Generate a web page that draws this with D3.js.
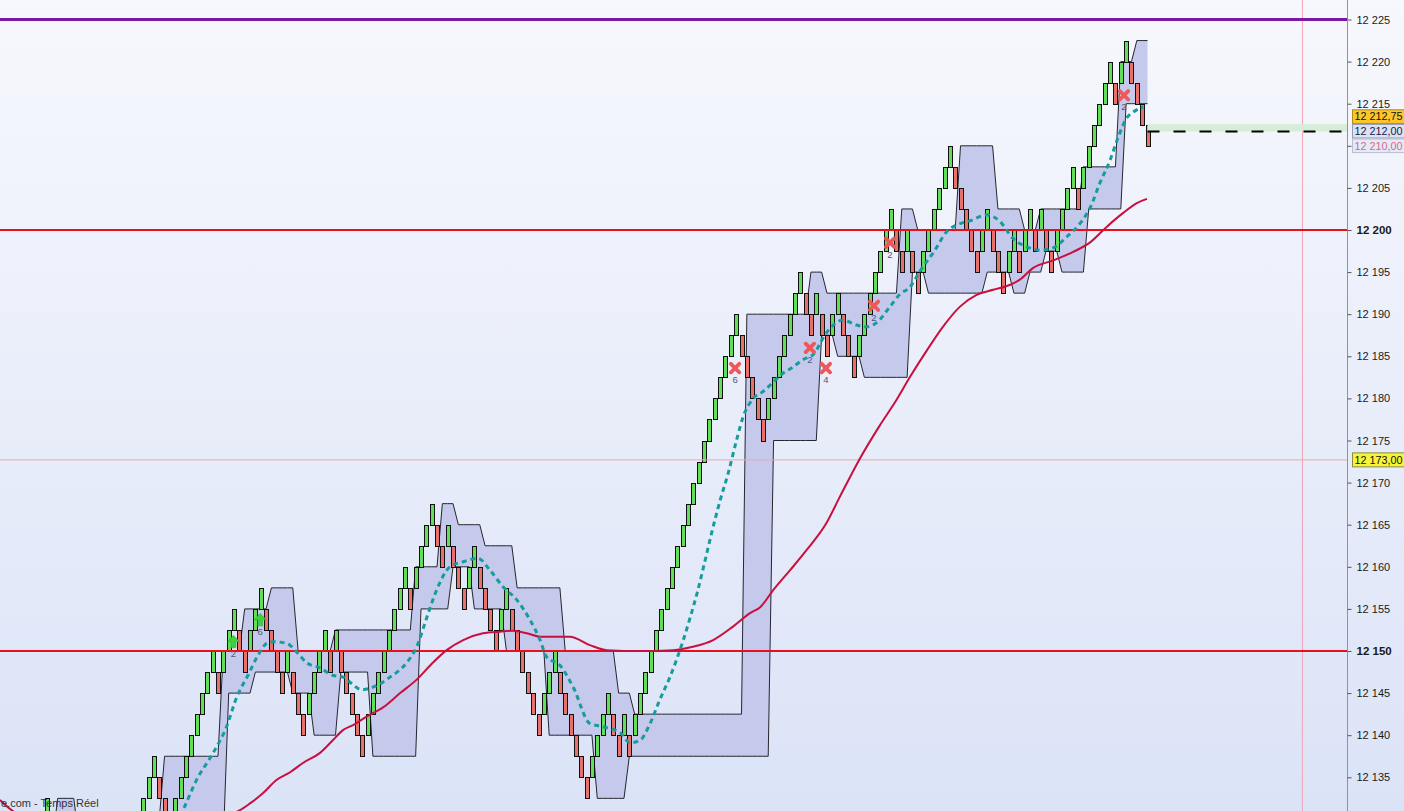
<!DOCTYPE html>
<html><head><meta charset="utf-8">
<script src="https://cdn.jsdelivr.net/npm/d3@7"></script>
<style>html,body{margin:0;padding:0;overflow:hidden;background:#fff}svg{display:block}</style>
</head><body>
<svg id="c" width="1404" height="811"></svg>
<script>
// ---------------- DATA ----------------
// Renko brick size (points)
const brickSize = 2.5;
// index of the first brick in brickTop (bricks left of x≈140 are mostly below the view)
const firstIndex = -18;
// top price of every renko brick, left to right (green = moved up, red = moved down)
const brickTop = [
 12132.5,12130,12127.5,12125,12127.5,12125,12122.5,12120,12122.5,12125,12127.5,12125,12127.5,12130,12127.5,12125,12127.5,12130,
 12132.5,12135,12137.5,12135,12132.5,12130,12132.5,12135,12137.5,12140,
 12142.5,12145,12147.5,12150,12147.5,12150,12152.5,12155,12152.5,12150,
 12152.5,12155,12157.5,12155,12152.5,12150,12147.5,12150,12147.5,12145,
 12142.5,12145,12147.5,12150,12152.5,12150,12152.5,12150,12147.5,12145,
 12142.5,12140,12142.5,12145,12147.5,12150,12152.5,12155,12157.5,12160,
 12157.5,12160,12162.5,12165,12167.5,12165,12162.5,12165,12162.5,12160,
 12157.5,12160,12162.5,12160,12157.5,12155,12152.5,12155,12157.5,12155,
 12152.5,12150,12147.5,12145,12142.5,12145,12147.5,12150,12147.5,12145,
 12142.5,12140,12137.5,12135,12137.5,12140,12142.5,12145,12142.5,12140,
 12142.5,12140,12142.5,12145,12147.5,12150,12152.5,12155,12157.5,12160,
 12162.5,12165,12167.5,12170,12172.5,12175,12177.5,12180,12182.5,12185,
 12187.5,12190,12187.5,12185,12182.5,12180,12177.5,12180,12182.5,12185,
 12187.5,12190,12192.5,12195,12192.5,12190,12192.5,12190,12187.5,12190,
 12192.5,12190,12187.5,12185,12187.5,12190,12192.5,12195,12197.5,12200,
 12202.5,12200,12197.5,12200,12197.5,12195,12197.5,12200,12202.5,12205,
 12207.5,12210,12207.5,12205,12202.5,12200,12197.5,12200,12202.5,12200,
 12197.5,12195,12197.5,12200,12197.5,12200,12202.5,12200,12202.5,12200,
 12197.5,12200,12202.5,12205,12207.5,12205,12207.5,12210,12212.5,12215,
 12217.5,12220,12217.5,12220,12222.5,12220,12217.5,12215,12212.5
];
// swing channel state before the first brick (below the view)
const bandStartHigh = 12127.5;
const bandStartLow = 12115;

// fast moving average (teal dotted): brick index / price
const fastMAIdx = [4.5,7.45,10.0,13.1,15.6,17.5,19.6,21.5,23.1,24.3,26.9,28.7,30.6,33.1,35.5,37.4,38.7,40.9,43.0,46.2,49.3,51.2,53.1,54.9,57.4,59.9,62.7,64.9,67.4,69.9,72.4,74.3,75.5,78.0,80.5,83.6,86.1,89.3,91.1,93.0,94.9,96.7,98.6,101.1,102.4,103.7,105.2,106.4,108.0,109.5,111.1,112.3,114.2,116.0,117.9,119.8,121.6,123.5,125.4,127.9,131.0,133.6,135.4,137.3,139.8,141.7,143.5,145.4,148.2,150.4,152.3,154.8,157.9,160.4,162.8,165.4,167.9,170.4,172.9,175.4,177.3,179.1,181.0,182.5,184.1,185.3,187.2];
const fastMAVal = [12127.6,12131.1,12134.7,12137.9,12141.0,12144.5,12147.1,12149.5,12150.9,12151.1,12150.9,12149.9,12148.6,12148.0,12147.1,12146.9,12146.3,12145.4,12145.7,12146.9,12148.6,12150.5,12154.0,12157.2,12160.0,12160.6,12161.0,12159.6,12157.6,12156.1,12153.7,12151.3,12149.3,12148.3,12145.7,12141.4,12141.0,12140.3,12139.1,12139.4,12141.4,12144.2,12146.9,12151.3,12154.0,12156.9,12160.8,12164.0,12167.9,12171.1,12175.1,12177.8,12180.0,12180.8,12181.9,12183.0,12183.7,12184.6,12185.2,12187.8,12189.3,12188.7,12188.5,12189.0,12190.9,12192.4,12193.2,12195.1,12197.6,12199.8,12200.6,12201.1,12201.8,12201.0,12199.0,12198.0,12197.6,12197.9,12199.2,12200.8,12202.7,12205.6,12208.3,12211.0,12213.3,12214.0,12214.6];

// slow moving average (crimson): brick index / price (values below 12130 are estimated, off view)
const slowMAIdx = [-26.8,-24.4,-11.8,3.1,18.1,20.0,22.4,25.0,27.5,29.9,33.1,35.5,37.4,39.3,41.8,44.9,48.1,51.2,54.2,56.8,59.9,63.6,66.8,69.2,71.8,74.3,77.4,79.9,83.6,86.8,93.0,99.2,102.9,106.7,110.4,113.6,115.5,117.9,121.1,124.2,127.9,130.4,134.2,137.9,141.0,143.5,146.7,149.7,152.9,156.0,159.1,162.3,164.1,166.6,170.4,174.1,177.2,180.4,183.4,186.0,187.9];
const slowMAVal = [12132.3,12131.0,12128.4,12128.6,12131.1,12131.9,12133.1,12134.7,12135.6,12136.7,12137.9,12139.4,12140.6,12141.2,12142.2,12143.3,12145.0,12146.6,12148.6,12150.1,12151.3,12152.1,12152.3,12152.4,12152.1,12151.7,12151.7,12151.7,12150.7,12150.1,12150.0,12150.1,12150.5,12151.3,12152.9,12154.5,12155.2,12157.2,12159.6,12162.0,12165.2,12168.3,12172.9,12176.8,12179.8,12182.5,12185.7,12188.5,12190.9,12192.3,12192.9,12193.5,12194.1,12195.5,12196.4,12197.4,12198.5,12200.4,12202.0,12203.2,12203.7];

// signal markers
const markerIdx = [16.9,21.9,110.8,124.8,127.8,136.8,139.8,183.6];
const markerPrice = [12151.1,12153.7,12183.6,12186.0,12183.6,12191.0,12198.5,12216.0];
const markerType = ["up","up","x","x","x","x","x","x"];
const markerLabel = ["2","6","6","2","4","2","2","2"];

// horizontal levels
const redLevels = [12200, 12150];
const purpleLevel = 12225;
const crossPrice = 12172.7;     // crosshair horizontal
const crossIndex = 217;         // crosshair vertical
const lastPrice = 12211.7;      // dashed current-price line
const lastBandTop = 12212.75;
// axis ticks
const tickValues = d3.range(12135, 12226, 5);
const boldTicks = [12200, 12150];
// right price tags
const tagText = ["12 212,75", "12 212,00", "12 210,00"];
const tagValue = [12212.75, 12211.7, 12210];
const crossTagText = "12 173,00";
const captionText = "e.com - Temps Réel";

// ---------------- CHART ----------------
const W = 1404, H = 811, axisX = 1347.5;
const svg = d3.select("#c");
const y = d3.scaleLinear().domain([12150, 12200]).range([651, 230]);
const x = d3.scaleLinear().domain([0, 188]).range([143.2, 1147.5]);
const font = "'Liberation Sans', Arial, sans-serif";

const defs = svg.append("defs");
const g = defs.append("linearGradient").attr("id","bg").attr("x1",0).attr("y1",0).attr("x2",0).attr("y2",1);
g.append("stop").attr("offset","0%").attr("stop-color","#f7f8fd");
g.append("stop").attr("offset","100%").attr("stop-color","#dbe3f7");
svg.append("rect").attr("width",W).attr("height",H).attr("fill","url(#bg)");

// bricks
const bricks = brickTop.map((t,k) => ({
  i: k + firstIndex, top: t, bot: t - brickSize,
  up: k === 0 ? true : t > brickTop[k-1]
}));

// swing channel (value plotted one brick after the reversal)
let sh = bandStartHigh, sl = bandStartLow;
const state = bricks.map((b,k) => {
  if (k > 0) {
    const prev = bricks[k-1];
    if (!b.up && prev.up) sh = prev.top;
    if (b.up && !prev.up) sl = prev.bot;
  }
  return {hi: sh, lo: sl};
});
const band = bricks.slice(1).map((b,k) => ({i: b.i, hi: state[k].hi, lo: state[k].lo}));

const plot = svg.append("g");
plot.append("path").datum(band)
  .attr("d", d3.area().x(d=>x(d.i)).y0(d=>y(d.lo)).y1(d=>y(d.hi)))
  .attr("fill","#c5c9ec");
["hi","lo"].forEach(key => {
  plot.append("path").datum(band)
    .attr("d", d3.line().x(d=>x(d.i)).y(d=>y(d[key])))
    .attr("fill","none").attr("stroke","#26262e").attr("stroke-width",1);
});

// bricks drawn
plot.selectAll("rect.brick").data(bricks).join("rect")
  .attr("class","brick")
  .attr("x", d => Math.round(x(d.i) - 2) + 0.5)
  .attr("y", d => Math.round(y(d.top)) + 0.5)
  .attr("width", 4)
  .attr("height", d => Math.round(y(d.bot)) - Math.round(y(d.top)))
  .attr("fill", d => d.up ? "#62de58" : "#e8716b")
  .attr("stroke","#111").attr("stroke-width",1);

// level lines
plot.append("line").attr("x1",0).attr("x2",axisX).attr("y1",y(crossPrice)).attr("y2",y(crossPrice))
  .attr("stroke","#f4a3b2").attr("stroke-width",1);
plot.append("line").attr("x1",x(crossIndex)).attr("x2",x(crossIndex)).attr("y1",0).attr("y2",H)
  .attr("stroke","#f4a3b2").attr("stroke-width",1);
redLevels.forEach(v => plot.append("line").attr("x1",0).attr("x2",axisX).attr("y1",y(v)).attr("y2",y(v))
  .attr("stroke","#e8101a").attr("stroke-width",2));
plot.append("line").attr("x1",0).attr("x2",axisX).attr("y1",y(purpleLevel)).attr("y2",y(purpleLevel))
  .attr("stroke","#7a18a6").attr("stroke-width",3);

// current price band + dashed line
const lastI = bricks[bricks.length-1].i;
plot.append("rect").attr("x", x(lastI)).attr("width", axisX - x(lastI))
  .attr("y", y(lastBandTop)+1.5).attr("height", y(lastPrice) - y(lastBandTop) - 1.5)
  .attr("fill","#d6edd8");
plot.append("line").attr("x1", x(lastI)).attr("x2", axisX).attr("y1", y(lastPrice)).attr("y2", y(lastPrice))
  .attr("stroke","#000").attr("stroke-width",2).attr("stroke-dasharray","12,14");

// moving averages
const slow = slowMAIdx.map((v,k)=>[v, slowMAVal[k]]);
const fast = fastMAIdx.map((v,k)=>[v, fastMAVal[k]]);
plot.append("path").datum(slow)
  .attr("d", d3.line().x(d=>x(d[0])).y(d=>y(d[1])).curve(d3.curveMonotoneX))
  .attr("fill","none").attr("stroke","#c8103e").attr("stroke-width",2);
plot.append("path").datum(fast)
  .attr("d", d3.line().x(d=>x(d[0])).y(d=>y(d[1])).curve(d3.curveMonotoneX))
  .attr("fill","none").attr("stroke","#169c9c").attr("stroke-width",3).attr("stroke-dasharray","5,4");

// markers
markerIdx.forEach((mi,k) => {
  const mx = x(mi), my = y(markerPrice[k]);
  const mg = plot.append("g").attr("transform",`translate(${mx},${my})`);
  if (markerType[k] === "x") {
    mg.append("path").attr("d","M-4.2,-4.2L4.2,4.2M4.2,-4.2L-4.2,4.2")
      .attr("stroke","#ef5858").attr("stroke-width",3.8).attr("stroke-linecap","round");
  } else {
    mg.append("path").attr("d","M0,-6.5L6,0L2.5,0L2.5,6L-2.5,6L-2.5,0L-6,0Z")
      .attr("fill","#3fd040").attr("stroke","#2aa82a").attr("stroke-width",0.5);
  }
  plot.append("text").attr("x",mx).attr("y",my+15).attr("text-anchor","middle")
    .attr("font-family",font).attr("font-size",9.5).attr("fill","#55557a").text(markerLabel[k]);
});

// bottom-left caption
svg.append("text").attr("x",1).attr("y",807).attr("font-family",font).attr("font-size",11)
  .attr("fill","#333").text(captionText);

// axis
svg.append("line").attr("x1",axisX).attr("x2",axisX).attr("y1",0).attr("y2",H)
  .attr("stroke","#8a94a6").attr("stroke-width",1);
const axis = svg.append("g").attr("transform",`translate(${axisX},0)`)
  .call(d3.axisRight(y).tickValues(tickValues).tickSize(4).tickPadding(5)
    .tickFormat(d => d3.format(",")(d).replace(",", " ")));
axis.select(".domain").remove();
axis.selectAll(".tick line").attr("stroke","#555");
axis.selectAll(".tick text").attr("font-family",font).attr("fill","#1a1a1a")
  .attr("font-weight", d => boldTicks.includes(d) ? 700 : 400)
  .attr("font-size", d => boldTicks.includes(d) ? 11.5 : 11);
axis.selectAll(".tick").filter(d => d === 12210).select("text").remove();

// price tags (stacked from the bottom up)
const tagFill = ["#fbc72b","#dce2f1","#e6e9f6"];
const tagStroke = ["#b48a10","#8e9ab8","#b6bdd4"];
const tagColor = ["#111","#141a4a","#d46a8c"];
let limit = Infinity;
const tagY = [];
for (let k = tagValue.length-1; k >= 0; k--) {
  let c = Math.min(y(tagValue[k]), limit);
  tagY[k] = c; limit = c - 14.6;
}
tagValue.forEach((v,k) => {
  svg.append("rect").attr("x",1352.5).attr("y",tagY[k]-6.8).attr("width",56).attr("height",13.6)
    .attr("fill",tagFill[k]).attr("stroke",tagStroke[k]).attr("stroke-width",1);
  svg.append("text").attr("x",1354.5).attr("y",tagY[k]).attr("dy","0.35em")
    .attr("font-family",font).attr("font-size",10.8).attr("fill",tagColor[k]).text(tagText[k]);
});
svg.append("rect").attr("x",1352.5).attr("y",y(crossPrice)-7).attr("width",56).attr("height",14)
  .attr("fill","#f6f43a").attr("stroke","#8a8a40").attr("stroke-width",1);
svg.append("text").attr("x",1354.5).attr("y",y(crossPrice)).attr("dy","0.35em")
  .attr("font-family",font).attr("font-size",10.8).attr("fill","#111").text(crossTagText);
</script>
</body></html>
